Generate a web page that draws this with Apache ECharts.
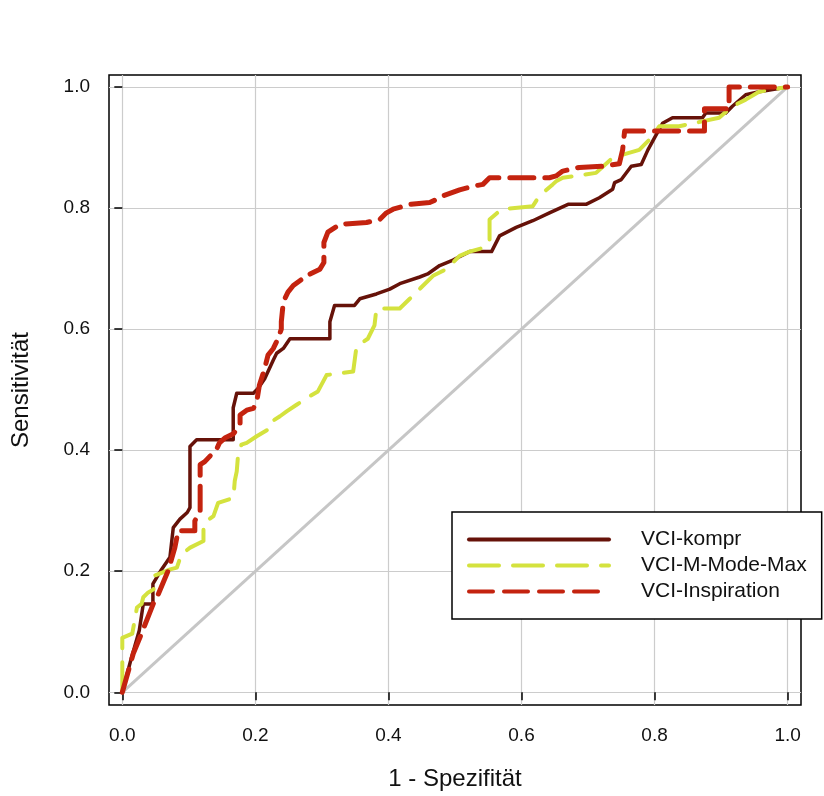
<!DOCTYPE html>
<html>
<head>
<meta charset="utf-8">
<script src="https://cdn.jsdelivr.net/npm/echarts@6/dist/echarts.min.js"></script>
<style>
  html, body { margin: 0; padding: 0; background: #fff; }
  #main { width: 824px; height: 796px; }
</style>
</head>
<body>
<div id="main"></div>
<script>
// tick positions for both axes
var ticks = [0, 0.2, 0.4, 0.6, 0.8, 1.0];
var seriesNames = ['VCI-kompr', 'VCI-M-Mode-Max', 'VCI-Inspiration'];

// VCI-kompr (1 - Spezifität / Sensitivität)
var komprX = [0, 0.012, 0.0255, 0.0315, 0.046, 0.046, 0.059, 0.0716, 0.0766, 0.0866, 0.0976, 0.1017, 0.1017, 0.1117, 0.1667, 0.1667, 0.172, 0.197, 0.204, 0.214, 0.227, 0.232, 0.242, 0.252, 0.312, 0.312, 0.319, 0.349, 0.357, 0.382, 0.402, 0.417, 0.447, 0.459, 0.477, 0.497, 0.522, 0.555, 0.567, 0.592, 0.617, 0.642, 0.670, 0.697, 0.717, 0.737, 0.740, 0.750, 0.765, 0.780, 0.790, 0.797, 0.812, 0.827, 0.872, 0.877, 0.907, 0.917, 0.937, 0.957, 1.0];
var komprY = [0, 0.05, 0.102, 0.146, 0.146, 0.179, 0.203, 0.223, 0.272, 0.286, 0.297, 0.305, 0.406, 0.417, 0.417, 0.47, 0.494, 0.494, 0.502, 0.518, 0.549, 0.56, 0.568, 0.584, 0.584, 0.612, 0.639, 0.639, 0.650, 0.658, 0.666, 0.675, 0.686, 0.691, 0.705, 0.714, 0.728, 0.728, 0.754, 0.768, 0.779, 0.792, 0.806, 0.806, 0.817, 0.831, 0.842, 0.847, 0.869, 0.872, 0.896, 0.910, 0.940, 0.949, 0.949, 0.957, 0.957, 0.968, 0.987, 0.992, 1.0];

// VCI-M-Mode-Max
var mmodeX = [0, 0, 0.015, 0.022, 0.029, 0.0315, 0.039, 0.047, 0.049, 0.072, 0.082, 0.089, 0.102, 0.122, 0.122, 0.127, 0.137, 0.144, 0.167, 0.169, 0.172, 0.174, 0.179, 0.187, 0.202, 0.222, 0.224, 0.237, 0.247, 0.262, 0.277, 0.294, 0.307, 0.347, 0.352, 0.369, 0.379, 0.382, 0.417, 0.432, 0.467, 0.487, 0.507, 0.522, 0.545, 0.552, 0.552, 0.570, 0.617, 0.627, 0.647, 0.652, 0.662, 0.712, 0.737, 0.777, 0.797, 0.807, 0.837, 0.897, 0.917, 0.937, 0.957, 1.0];
var mmodeY = [0, 0.09, 0.097, 0.14, 0.146, 0.157, 0.165, 0.17, 0.193, 0.203, 0.206, 0.228, 0.239, 0.25, 0.277, 0.283, 0.291, 0.313, 0.321, 0.349, 0.365, 0.392, 0.409, 0.412, 0.423, 0.436, 0.447, 0.456, 0.464, 0.475, 0.486, 0.497, 0.524, 0.530, 0.571, 0.584, 0.606, 0.634, 0.634, 0.650, 0.688, 0.699, 0.721, 0.728, 0.735, 0.745, 0.781, 0.798, 0.803, 0.820, 0.839, 0.844, 0.850, 0.858, 0.883, 0.896, 0.918, 0.935, 0.935, 0.949, 0.968, 0.979, 0.992, 1.0];

// VCI-Inspiration
var inspX = [0, 0.0165, 0.0266, 0.0465, 0.054, 0.069, 0.079, 0.084, 0.109, 0.109, 0.117, 0.117, 0.124, 0.142, 0.146, 0.154, 0.167, 0.177, 0.177, 0.187, 0.197, 0.202, 0.206, 0.214, 0.219, 0.227, 0.234, 0.239, 0.239, 0.242, 0.249, 0.257, 0.277, 0.297, 0.303, 0.303, 0.309, 0.327, 0.367, 0.387, 0.397, 0.407, 0.432, 0.462, 0.472, 0.482, 0.507, 0.527, 0.542, 0.552, 0.642, 0.652, 0.662, 0.687, 0.722, 0.747, 0.752, 0.755, 0.875, 0.875, 0.912, 0.912, 1.0];
var inspY = [0, 0.064, 0.091, 0.146, 0.162, 0.201, 0.239, 0.267, 0.267, 0.283, 0.299, 0.376, 0.381, 0.402, 0.412, 0.42, 0.427, 0.442, 0.458, 0.466, 0.469, 0.48, 0.507, 0.535, 0.557, 0.568, 0.584, 0.60, 0.612, 0.645, 0.661, 0.672, 0.688, 0.699, 0.710, 0.743, 0.760, 0.773, 0.776, 0.781, 0.792, 0.798, 0.806, 0.809, 0.814, 0.820, 0.830, 0.836, 0.839, 0.850, 0.850, 0.853, 0.861, 0.867, 0.869, 0.873, 0.896, 0.927, 0.927, 0.964, 0.964, 1.0, 1.0];

// diagonal reference
var diagX = [0, 1];
var diagY = [0, 1];

function zip(xs, ys) {
    return xs.map(function (x, i) { return [x, ys[i]]; });
}

var font = '"Liberation Sans", Arial, sans-serif';

var myChart = echarts.init(document.getElementById('main'));
var options = {
    backgroundColor: '#fff',
    animation: false,
    grid: {
        left: 109, top: 75, width: 692, height: 633,
        show: true, borderColor: '#000', borderWidth: 1.5, backgroundColor: 'transparent'
    },
    legend: {
        data: seriesNames,
        orient: 'vertical',
        left: 452, top: 512,
        itemWidth: 140, itemHeight: 14, itemGap: 5,
        padding: [17, 15, 17, 15],
        borderColor: '#000', borderWidth: 1.5,
        backgroundColor: '#fff',
        itemStyle: { opacity: 0 },
        lineStyle: { width: 4, cap: 'round' },
        textStyle: { fontFamily: font, fontSize: 21, color: '#111', padding: [0, 0, 0, 27] }
    },
    xAxis: {
        type: 'value', min: -0.02, max: 1.0201,
        name: '1 - Spezifität', nameLocation: 'middle', nameGap: 62,
        nameTextStyle: { fontFamily: font, fontSize: 24, color: '#111' },
        axisLine: { show: false },
        axisTick: { show: true, customValues: ticks, length: 8, lineStyle: { color: '#000', width: 1.5 } },
        axisLabel: { customValues: ticks, margin: 21, fontFamily: font, fontSize: 19, color: '#111',
            formatter: function (v) { return v.toFixed(1); } },
        splitLine: { show: true, lineStyle: { color: '#cccccc', width: 1.2 } }
    },
    yAxis: {
        type: 'value', min: -0.021, max: 1.0197,
        name: 'Sensitivität', nameLocation: 'middle', nameGap: 76, nameRotate: 90,
        nameTextStyle: { fontFamily: font, fontSize: 24, color: '#111' },
        axisLine: { show: false },
        axisTick: { show: true, customValues: ticks, length: 8, lineStyle: { color: '#000', width: 1.5 } },
        axisLabel: { customValues: ticks, margin: 19, fontFamily: font, fontSize: 19, color: '#111',
            formatter: function (v) { return v.toFixed(1); } },
        splitLine: { show: true, lineStyle: { color: '#cccccc', width: 1.2 } }
    },
    series: [
        {
            name: 'diag', type: 'line', data: zip(diagX, diagY), symbol: 'none', silent: true,
            lineStyle: { color: '#c6c6c6', width: 3 }
        },
        {
            name: seriesNames[0], type: 'line', data: zip(komprX, komprY), symbol: 'none',
            color: '#661209',
            lineStyle: { color: '#661209', width: 3.5, cap: 'round', join: 'round' }
        },
        {
            name: seriesNames[1], type: 'line', data: zip(mmodeX, mmodeY), symbol: 'none',
            color: '#d4e23e',
            lineStyle: { color: '#d4e23e', width: 4, type: [30, 14], cap: 'round', join: 'round' }
        },
        {
            name: seriesNames[2], type: 'line', data: zip(inspX, inspY), symbol: 'none',
            color: '#c4230f',
            lineStyle: { color: '#c4230f', width: 5, type: [24, 11], cap: 'round', join: 'round' }
        }
    ]
};
myChart.setOption(options);
window.onresize = function () {
    myChart.resize();
};
</script>
</body>
</html>
